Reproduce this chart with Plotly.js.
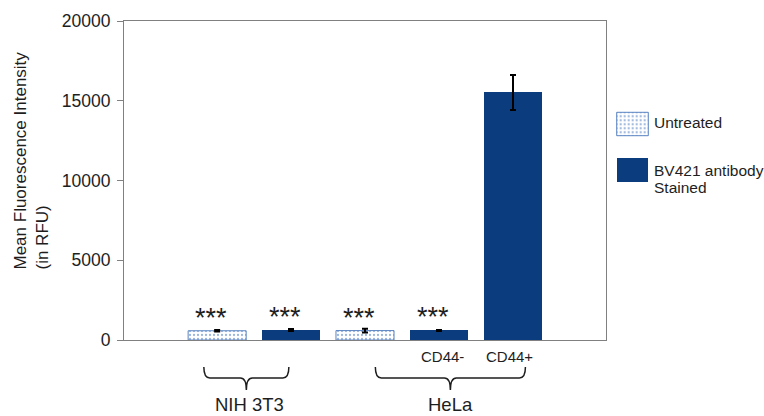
<!DOCTYPE html>
<html>
<head>
<meta charset="utf-8">
<script src="https://cdn.plot.ly/plotly-3.0.1.min.js"></script>
<style>html,body{margin:0;padding:0;background:#fff;}#chart{width:764px;height:416px;}</style>
</head>
<body>
<div id="chart"></div>
<script>
// ---- data ----
var categories = ['NIH 3T3 Untreated', 'NIH 3T3 Stained', 'HeLa Untreated', 'HeLa CD44-', 'HeLa CD44+'];
var untreatedCats = ['NIH 3T3 Untreated', 'HeLa Untreated'];
var untreatedVals = [580, 590];
var untreatedErr = [50, 120];
var stainedCats = ['NIH 3T3 Stained', 'HeLa CD44-', 'HeLa CD44+'];
var stainedVals = [610, 600, 15520];
var stainedErr = [50, 50, 1100];
var sigCats = ['NIH 3T3 Untreated', 'NIH 3T3 Stained', 'HeLa Untreated', 'HeLa CD44-'];
var sigVals = [580, 610, 590, 600];
var sigLabel = '***';
var subLabelCats = ['HeLa CD44-', 'HeLa CD44+'];
var subLabels = ['CD44-', 'CD44+'];
var groupNames = ['NIH 3T3', 'HeLa'];
var groupSpans = [[-0.18, 0.97], [2.14, 4.17]];
var legendNames = ['Untreated', 'BV421 antibody', 'Stained'];
var yTicks = [0, 5000, 10000, 15000, 20000];

// ---- geometry helpers ----
var W = 764, H = 416, ML = 124, MR = 10, MT = 21, MB = 76;
var PW = W - ML - MR, PH = H - MT - MB;
var plotRight = 606;
var xRange = [-1.26, 5.26];
function px(x) { return (x - ML) / PW; }
function py(y) { return (H - MB - y) / PH; }
function dataXpx(d) { return ML + (d - xRange[0]) / (xRange[1] - xRange[0]) * (plotRight - ML); }
function idx(c) { return categories.indexOf(c); }

var DARK = '#0b3c7d';
var FONT = 'Liberation Sans, Arial, Helvetica, sans-serif';
var TXT = '#1e1e1e';
var dotPattern = {shape: '.', fgcolor: '#9bb7de', size: 4, solidity: 0.25};

var traces = [
  {type: 'bar', x: untreatedCats, y: untreatedVals, width: 0.785, name: 'Untreated',
   marker: {color: '#eef4fb', pattern: dotPattern, line: {color: '#5a84c2', width: 1}},
   error_y: {type: 'data', array: untreatedErr, color: '#000', thickness: 2, width: 3},
   hoverinfo: 'skip', showlegend: false},
  {type: 'bar', x: stainedCats, y: stainedVals, width: 0.785, name: 'BV421 antibody Stained',
   marker: {color: DARK, line: {color: DARK, width: 0}},
   error_y: {type: 'data', array: stainedErr, color: '#000', thickness: 2, width: 3},
   hoverinfo: 'skip', showlegend: false},
  // legend swatches
  {type: 'bar', orientation: 'h', x: [1], y: [57.7], width: 23.4, xaxis: 'x2', yaxis: 'y2',
   marker: {color: '#eef4fb', pattern: dotPattern, line: {color: '#5a84c2', width: 1}},
   hoverinfo: 'skip', showlegend: false},
  {type: 'bar', orientation: 'h', x: [1], y: [11.7], width: 23.4, xaxis: 'x2', yaxis: 'y2',
   marker: {color: DARK, line: {width: 0}},
   hoverinfo: 'skip', showlegend: false}
];

var annotations = [];
sigCats.forEach(function (c, i) {
  annotations.push({x: idx(c) - 0.08, y: sigVals[i], xref: 'x', yref: 'y', text: sigLabel,
    showarrow: false, xanchor: 'center', yanchor: 'middle', yshift: 13,
    font: {family: FONT, size: 27, color: TXT}});
});
subLabelCats.forEach(function (c, i) {
  annotations.push({x: idx(c) + (i === 0 ? 0.05 : -0.04), y: py(356), xref: 'x', yref: 'paper', text: subLabels[i],
    showarrow: false, xanchor: 'center', yanchor: 'middle',
    font: {family: FONT, size: 15, color: TXT}});
});

var shapes = [];
groupSpans.forEach(function (s, i) {
  var x1 = dataXpx(s[0]), x2 = dataXpx(s[1]), xm = (x1 + x2) / 2;
  var yt = 367, ym = 378, yb = 390, r = 6;
  var pts = 'M' + px(x1) + ',' + py(yt) +
    ' Q' + px(x1) + ',' + py(ym) + ' ' + px(x1 + r) + ',' + py(ym) +
    ' L' + px(xm - r) + ',' + py(ym) +
    ' Q' + px(xm) + ',' + py(ym) + ' ' + px(xm) + ',' + py(yb) +
    ' Q' + px(xm) + ',' + py(ym) + ' ' + px(xm + r) + ',' + py(ym) +
    ' L' + px(x2 - r) + ',' + py(ym) +
    ' Q' + px(x2) + ',' + py(ym) + ' ' + px(x2) + ',' + py(yt);
  shapes.push({type: 'path', xref: 'paper', yref: 'paper', path: pts,
    line: {color: TXT, width: 1.5}});
  annotations.push({x: px(xm + (i === 0 ? 3 : 0)), y: py(404.5), xref: 'paper', yref: 'paper', text: groupNames[i],
    showarrow: false, xanchor: 'center', yanchor: 'middle',
    font: {family: FONT, size: 18.5, color: TXT}});
});

// legend labels
var legY = [122.5, 170, 187.5];
legendNames.forEach(function (t, i) {
  annotations.push({x: px(652), y: py(legY[i]), xref: 'paper', yref: 'paper', text: t,
    showarrow: false, xanchor: 'left', yanchor: 'middle',
    font: {family: FONT, size: 15.5, color: TXT}});
});

// y title
annotations.push({x: px(31), y: py(160.5), xref: 'paper', yref: 'paper',
  text: 'Mean Fluorescence Intensity<br>(in RFU)', textangle: -90, align: 'left',
  showarrow: false, xanchor: 'center', yanchor: 'middle',
  font: {family: FONT, size: 17, color: TXT}});

var layout = {
  width: W, height: H,
  margin: {l: ML, r: MR, t: MT, b: MB, pad: 0},
  paper_bgcolor: '#fff', plot_bgcolor: '#fff',
  barmode: 'overlay', bargap: 0,
  showlegend: false,
  xaxis: {domain: [0, px(plotRight)], type: 'category', categoryorder: 'array', categoryarray: categories,
    range: xRange, showticklabels: false, ticks: '', showgrid: false, zeroline: false,
    showline: true, mirror: true, linecolor: '#808080', linewidth: 1, fixedrange: true},
  yaxis: {range: [0, 20000], tickvals: yTicks, ticktext: yTicks.map(String), ticks: 'outside', ticklen: 6,
    tickcolor: '#808080', tickwidth: 1, showgrid: false, zeroline: false, ticklabelstandoff: 3,
    showline: true, mirror: true, linecolor: '#808080', linewidth: 1,
    tickfont: {family: FONT, size: 17.5, color: TXT}, fixedrange: true},
  xaxis2: {domain: [px(614.7), px(650.3)], range: [-0.063, 1.063], visible: false, anchor: 'y2', fixedrange: true},
  yaxis2: {domain: [py(183.7), py(110.3)], range: [-2, 71.4], visible: false, anchor: 'x2', fixedrange: true},
  annotations: annotations,
  shapes: shapes
};

Plotly.newPlot('chart', traces, layout, {displayModeBar: false, staticPlot: true});
</script>
</body>
</html>
